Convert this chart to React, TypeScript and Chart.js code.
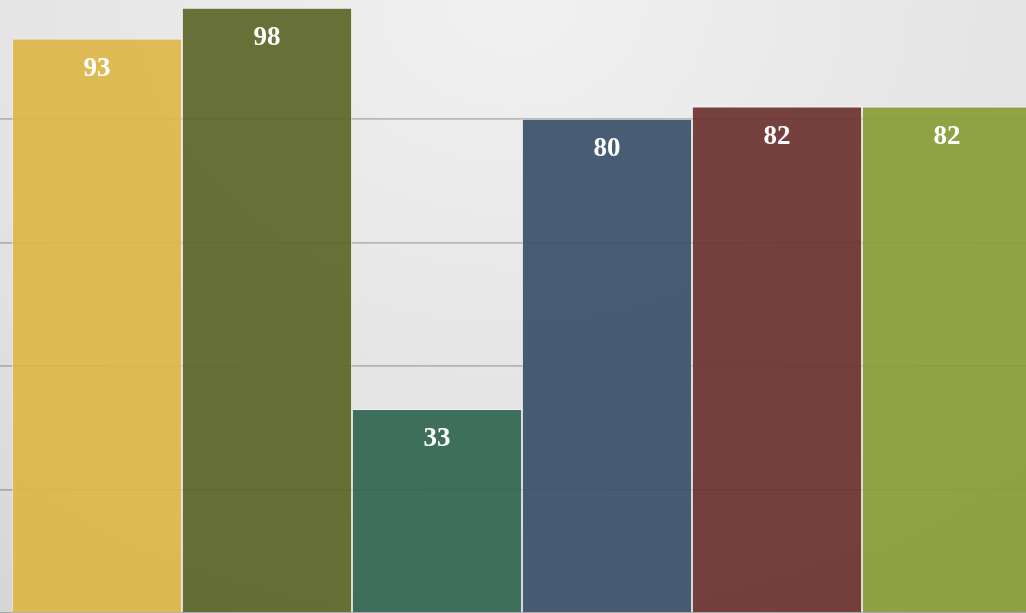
import React, { useEffect, useRef } from "react";
import { Chart, registerables } from "chart.js";

Chart.register(...registerables);

const categories = ["A", "B", "C", "D", "E", "F"];
const values = [93, 98, 33, 80, 82, 82];
const barColors = [
  "rgba(221,182,73,0.92)",
  "rgba(90,101,39,0.92)",
  "rgba(48,101,79,0.92)",
  "rgba(55,80,105,0.92)",
  "rgba(106,49,46,0.92)",
  "rgba(136,157,54,0.92)",
];
const gridTicks = [0, 20, 40, 60, 80];

const labelPlugin = {
  id: "barLabels",
  afterDatasetsDraw(chart: any) {
    const ctx = chart.ctx;
    const meta = chart.getDatasetMeta(0);
    ctx.save();
    ctx.fillStyle = "#ffffff";
    ctx.font = "bold 27px 'Liberation Serif', 'Times New Roman', serif";
    ctx.textAlign = "center";
    ctx.textBaseline = "middle";
    meta.data.forEach((bar: any, i: number) => {
      const { x, y } = bar.getProps(["x", "y"], true);
      ctx.fillText(String(values[i]), x, y + 30);
    });
    ctx.restore();
  },
};

export default function App() {
  const ref = useRef<HTMLCanvasElement | null>(null);
  useEffect(() => {
    if (!ref.current) return;
    const chart = new Chart(ref.current, {
      type: "bar",
      data: {
        labels: categories,
        datasets: [
          {
            data: values,
            backgroundColor: barColors,
            borderColor: "rgba(255,255,255,0.45)",
            borderWidth: 1.2,
            categoryPercentage: 1,
            barPercentage: 1,
          },
        ],
      },
      options: {
        animation: false,
        responsive: true,
        maintainAspectRatio: false,
        layout: { padding: 0 },
        plugins: {
          legend: { display: false },
          tooltip: { enabled: false },
          title: { display: false },
        },
        scales: {
          x: {
            display: false,
          },
          y: {
            min: 0,
            max: 99.27,
            afterBuildTicks: (axis: any) => {
              axis.ticks = gridTicks.map((v) => ({ value: v }));
            },
            ticks: { display: false, padding: 0 },
            grid: {
              color: "rgba(0,0,0,0.22)",
              lineWidth: 1.8,
              tickLength: 12,
              drawTicks: true,
            },
            border: { display: false },
          },
        },
      },
      plugins: [labelPlugin],
    });
    return () => chart.destroy();
  }, []);

  return (
    <div
      style={{
        position: "fixed",
        left: 0,
        top: 0,
        width: 1026,
        height: 613,
        overflow: "hidden",
        background:
          "radial-gradient(ellipse 110% 150% at 50% 0%, #f1f1f1 0%, #e3e3e3 50%, #cdcdcd 100%)",
      }}
    >
      <div style={{ position: "absolute", left: 0, top: 0, width: 1032, height: 613 }}>
        <canvas ref={ref} />
      </div>
    </div>
  );
}
